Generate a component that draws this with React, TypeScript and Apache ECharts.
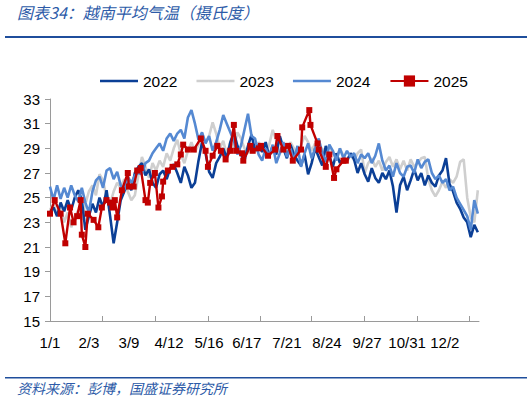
import React, { useEffect, useRef } from "react";
import * as echarts from "echarts";

const seriesNames = ["2022", "2023", "2024", "2025"];
const labelDates = ["1/1", "2/3", "3/9", "4/12", "5/16", "6/17", "7/21", "8/24", "9/27", "10/31", "12/2"];
const tickDays = [0, 44, 89, 134, 178, 222, 267, 312, 356];
const sampleStep = 3;

// 2022 / 2023 / 2024 sampled every 3 days from 1/1
const t2022 = [
  23.8, 24.2, 23.5, 24.6, 23.9, 24.8, 24.0, 25.0, 25.6, 24.8, 22.4,
  23.5, 24.5, 23.8, 25.0, 24.2, 25.6, 23.5, 21.3, 23.0, 24.8, 25.5,
  26.2, 25.6, 27.0, 27.5, 27.8, 26.8, 27.3, 26.2, 25.8, 26.9, 27.2,
  26.5, 27.4, 27.7, 27.0, 26.2, 27.5, 26.8, 25.8, 26.2, 28.0, 29.5,
  28.6, 27.1, 26.6, 27.8, 28.3, 29.0, 28.2, 29.5, 30.3, 29.2, 28.5,
  28.0, 29.2, 30.1, 28.8, 29.3, 28.7, 29.5, 28.3, 29.2, 28.5, 30.0,
  29.0, 28.2, 29.3, 28.5, 28.0, 27.6, 28.5, 26.9, 27.8, 29.0, 28.3,
  27.6, 29.2, 28.4, 27.5, 28.6, 27.8, 28.2,
  28.0, 28.6, 28.1, 27.0, 27.8, 26.9, 26.3, 27.4, 26.6, 26.2, 27.0, 26.5, 27.2,
  25.9, 23.8, 26.0, 26.7, 25.6, 26.4, 27.3, 26.4, 27.0, 26.0, 26.8, 26.2, 25.9,
  26.8, 27.2, 28.2, 26.1, 25.5, 24.6, 24.1, 23.4, 23.0, 21.8, 22.8, 22.2,
];
const t2023 = [
  24.0, 24.5, 23.6, 24.2, 23.0, 23.8, 22.6, 23.4, 24.0, 23.2, 24.5,
  25.5, 26.0, 25.2, 26.9, 26.4, 25.0, 24.5, 25.5, 26.2, 25.8, 26.5,
  25.5, 24.8, 25.2, 26.8, 28.3, 27.5, 26.6, 27.8, 27.2, 28.0, 27.5,
  28.6, 28.0, 29.0, 29.7, 28.5, 27.8, 28.8, 29.5, 28.7, 29.3, 30.2,
  29.5, 30.0, 31.1, 30.2, 29.0, 29.6, 28.5, 29.5, 29.0, 30.3, 29.8,
  29.0, 28.6, 29.2, 28.7, 29.5, 29.0, 28.5, 29.3, 30.5, 29.6, 28.6,
  29.0, 28.8, 29.5, 29.0, 28.5, 29.3, 30.0, 29.5, 28.8, 29.4, 28.7,
  29.0, 28.5, 29.2, 28.6, 28.2, 29.0, 28.4, 27.9, 28.5, 28.0, 28.6,
  28.9, 27.0, 27.8, 28.2, 27.5, 28.0, 27.2, 27.9, 28.3, 27.5, 28.1,
  27.3, 28.0, 27.2, 28.1, 27.5, 27.8, 28.2, 28.3, 26.5, 25.6, 25.1,
  25.6, 26.3, 25.8, 26.5, 26.2, 26.7, 27.9, 28.1, 25.0, 23.4, 23.0, 25.6,
];
const t2024 = [
  25.9, 24.8, 26.0, 24.9, 25.8, 25.0, 26.0, 25.2, 24.7, 25.8, 24.6,
  23.8, 25.5, 26.4, 26.7, 25.8, 27.2, 27.4, 26.5, 27.1, 26.0, 25.6,
  26.7, 26.2, 26.8, 27.0, 26.9, 27.8, 28.0, 28.6, 29.0, 29.4, 28.8,
  29.8, 30.2, 29.6, 30.2, 30.5, 29.8, 31.5, 32.1, 31.0, 29.7, 30.3,
  29.4, 30.0, 28.8, 29.5, 30.5, 31.7, 31.0, 30.3, 29.6, 28.5, 29.2,
  30.5, 31.8, 30.0, 29.8, 28.5, 28.0, 29.0, 28.4, 29.3, 27.8, 28.6,
  29.5, 28.3, 29.0, 28.0, 29.2, 27.5, 28.6, 29.4, 28.2, 29.0, 29.8,
  28.6, 27.9, 29.3, 28.8, 28.0, 29.0, 28.2, 28.8, 28.3, 28.6, 27.8,
  28.5, 28.2, 28.6, 27.8, 28.4, 29.4, 28.0, 27.2, 27.6, 26.7, 27.8,
  27.0, 26.7, 27.5, 27.6, 27.0, 28.1, 27.4, 27.9, 28.1, 27.0, 26.5,
  26.8, 26.2, 26.5, 25.6, 25.9, 25.0, 24.5, 24.0, 23.5, 22.4, 24.8, 23.7,
];
// 2025: observation day-of-year and value
const days2025 = [
  0, 4, 9, 13, 17, 20, 23, 26, 27, 30, 32, 37, 41, 44, 48, 51, 53, 55, 57, 61,
  66, 67, 71, 74, 77, 81, 83, 85, 89, 92, 95, 96, 100, 104, 108, 111, 113, 117, 122, 128,
  132, 134, 138, 142, 145, 149, 153, 156, 158, 163, 164, 170, 172, 177, 179, 185, 191, 193, 198, 202,
  206, 213, 214, 220, 221, 227, 228, 234, 237, 241, 243, 249, 251,
];
const t2025 = [
  23.7, 24.8, 23.7, 21.3, 24.2, 23.0, 23.5, 24.8, 22.0, 21.0, 23.7, 23.2, 22.6, 24.2, 24.8, 24.6, 24.2, 24.8, 23.4, 25.6,
  27.0, 25.9, 25.9, 27.2, 27.4, 24.8, 24.6, 26.2, 27.0, 24.2, 25.1, 26.3, 27.2, 27.5, 27.7, 28.5, 29.3, 28.9, 28.9, 29.8,
  28.8, 27.5, 28.4, 29.2, 28.8, 28.1, 28.8, 30.9, 28.8, 28.6, 28.0, 29.2, 28.8, 29.0, 29.2, 28.4, 28.9, 30.0, 28.9, 29.2,
  28.0, 28.9, 30.7, 32.1, 30.9, 29.4, 28.9, 27.5, 28.5, 26.6, 27.3, 28.0, 28.0,
];

const DAYS = 365;

function buildCategories(): string[] {
  const out: string[] = [];
  const d = new Date(2023, 0, 1);
  for (let i = 0; i < DAYS; i++) {
    out.push(`${d.getMonth() + 1}/${d.getDate()}`);
    d.setDate(d.getDate() + 1);
  }
  return out;
}

function fromSampled(vals: number[]): (number | null)[] {
  const a: (number | null)[] = new Array(DAYS).fill(null);
  vals.forEach((v, i) => {
    if (i * sampleStep < DAYS) a[i * sampleStep] = v;
  });
  return a;
}

function fromPairs(days: number[], vals: number[]): (number | null)[] {
  const a: (number | null)[] = new Array(DAYS).fill(null);
  days.forEach((d, i) => {
    a[d] = vals[i];
  });
  return a;
}

const FONT = '"Liberation Sans", Arial, sans-serif';
const CJK = '"Noto Sans CJK SC", sans-serif';
// plain line legend icon (bbox 38x14 kept by tiny corner sub-paths)
const LINE_ICON = "path://M0,0L0.01,0L0.01,0.01ZM0,5.7L38,5.7L38,8.3L0,8.3ZM37.99,14L38,14L38,13.99Z";

export default function App() {
  const ref = useRef<HTMLDivElement>(null);
  useEffect(() => {
    if (!ref.current) return;
    const chart = echarts.init(ref.current, null, { renderer: "svg" });
    const categories = buildCategories();
    const colors: Record<string, string> = {
      "2022": "#0b3f96",
      "2023": "#cfcfcf",
      "2024": "#5589d2",
      "2025": "#c00000",
    };
    const lineSeries = (name: string, data: (number | null)[], z: number) => ({
      name,
      type: "line",
      data,
      connectNulls: true,
      symbol: "none",
      z,
      lineStyle: { color: colors[name], width: 2.6 },
      itemStyle: { color: colors[name] },
    });
    chart.setOption({
      animation: false,
      grid: { left: 50, right: 53, top: 99, bottom: 82, outerBoundsMode: "none" },
      legend: {
        data: seriesNames.map((n) => (n === "2025" ? { name: n } : { name: n, icon: LINE_ICON })),
        left: 95,
        top: 68,
        itemWidth: 38,
        itemHeight: 14,
        itemGap: 19,
        textStyle: { fontSize: 15.5, color: "#000", fontFamily: FONT },
      },
      xAxis: {
        type: "category",
        data: categories,
        boundaryGap: false,
        axisLine: { lineStyle: { color: "#9a9a9a", width: 1 } },
        axisTick: {
          inside: true,
          length: 5,
          interval: (index: number) => tickDays.includes(index),
          lineStyle: { color: "#9a9a9a" },
        },
        axisLabel: {
          interval: (_i: number, value: string) => labelDates.includes(value),
          color: "#000",
          fontSize: 15,
          fontFamily: FONT,
          margin: 14,
        },
        splitLine: { show: false },
      },
      yAxis: {
        type: "value",
        min: 15,
        max: 33,
        interval: 2,
        axisLine: { show: true, lineStyle: { color: "#9a9a9a" } },
        axisTick: { show: true, length: 5, lineStyle: { color: "#9a9a9a" } },
        axisLabel: { color: "#000", fontSize: 15, fontFamily: FONT, margin: 10 },
        splitLine: { show: false },
      },
      series: [
        lineSeries("2023", fromSampled(t2023), 1),
        lineSeries("2022", fromSampled(t2022), 2),
        lineSeries("2024", fromSampled(t2024), 3),
        {
          name: "2025",
          type: "line",
          data: fromPairs(days2025, t2025),
          connectNulls: true,
          symbol: "rect",
          symbolSize: 6,
          showAllSymbol: true,
          z: 4,
          lineStyle: { color: colors["2025"], width: 2.4 },
          itemStyle: { color: colors["2025"] },
        },
      ],
      graphic: [
        {
          type: "text",
          left: 17,
          top: 4,
          style: {
            text: "图表34：越南平均气温（摄氏度）",
            font: `italic 16px ${CJK}`,
            fill: "#2d5ba8",
          },
        },
        { type: "rect", shape: { x: 5, y: 36, width: 522, height: 2 }, style: { fill: "#1f4e9c" } },
        { type: "rect", shape: { x: 5, y: 377, width: 522, height: 1.5 }, style: { fill: "#1f4e9c" } },
        {
          type: "text",
          left: 17,
          top: 381,
          style: {
            text: "资料来源：彭博，国盛证券研究所",
            font: `italic 14px ${CJK}`,
            fill: "#2d5ba8",
          },
        },
      ],
    });
    return () => chart.dispose();
  }, []);
  return (
    <div
      ref={ref}
      style={{ position: "fixed", left: 0, top: 0, width: 532, height: 403, background: "#fff" }}
    />
  );
}
